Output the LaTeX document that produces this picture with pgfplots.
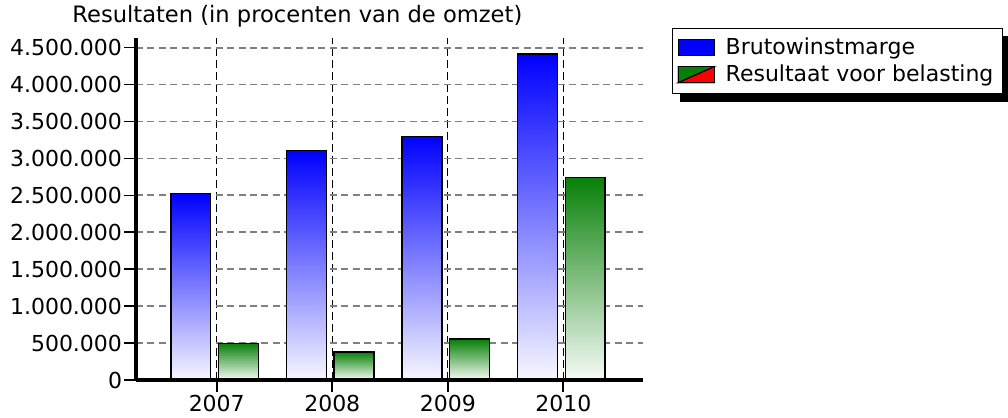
\documentclass[border=0pt]{standalone}
\usepackage{fontspec}
\setmainfont{DejaVu Sans}
\usepackage{pgfplots}
\pgfplotsset{compat=1.18}
\definecolor{bblue}{RGB}{0,0,255}
\definecolor{ggreen}{RGB}{8,128,8}
\newcommand{\chfont}{\fontsize{11}{13}\selectfont}
\pgfplotsset{
  layers/gridbelow/.define layer set={
    axis background,axis grid,main,axis ticks,axis lines,axis tick labels,axis descriptions,axis foreground
  }{
    grid style={/pgfplots/on layer=axis grid},
    tick style={/pgfplots/on layer=axis ticks},
    axis line style={/pgfplots/on layer=axis lines},
    label style={/pgfplots/on layer=axis descriptions},
    legend style={/pgfplots/on layer=axis descriptions},
    title style={/pgfplots/on layer=axis descriptions},
    colorbar style={/pgfplots/on layer=axis descriptions},
    ticklabel style={/pgfplots/on layer=axis tick labels},
    axis background@ style={/pgfplots/on layer=axis background},
    3d box foreground style={/pgfplots/on layer=axis foreground},
  },
}
\begin{document}
\chfont
\begin{tikzpicture}
\begin{axis}[
  set layers=gridbelow,
  at={(0,0)}, anchor=south west,
  scale only axis, width=253.5pt, height=171pt,
  xmin=-0.699, xmax=3.69, ymin=0, ymax=4631000,
  axis x line=bottom, axis y line=left,
  axis line style={-, line width=1.8pt, black},
  xtick={0,1,2,3}, xticklabels={2007,2008,2009,2010},
  ytick={0,500000,1000000,1500000,2000000,2500000,3000000,3500000,4000000,4500000},
  scaled y ticks=false,
  tick label style={font=\chfont, black},
  x tick label style={yshift=2.5pt},
  y tick label style={inner xsep=0.8pt, /pgf/number format/.cd, fixed, precision=0, 1000 sep={.}},
  /pgf/number format/assume math mode=true,
  tick align=outside, major tick length=6pt,
  tick style={black, line width=0.8pt},
  xmajorgrids, ymajorgrids,
  x grid style={black, line width=0.6pt, dash pattern=on 4pt off 2pt},
  y grid style={black!50, line width=0.9pt, dash pattern=on 3.5pt off 2.2pt},
  legend style={name=leg, at={(1.057,1.029)}, anchor=north west, draw=black, line width=0.6pt,
    fill=white, font=\chfont, inner xsep=2.5pt, inner ysep=2.5pt, row sep=-0.5pt, column sep=3.5pt},
  legend cell align=left,
]
% Brutowinstmarge
\addplot[ybar, bar width=0.346, bar shift=-0.225, draw=black, line width=0.75pt, top color=bblue, bottom color=bblue!3!white, forget plot] coordinates {(0,2523000)};
\addplot[ybar, bar width=0.346, bar shift=-0.225, draw=black, line width=0.75pt, top color=bblue, bottom color=bblue!3!white, forget plot] coordinates {(1,3108000)};
\addplot[ybar, bar width=0.346, bar shift=-0.225, draw=black, line width=0.75pt, top color=bblue, bottom color=bblue!3!white, forget plot] coordinates {(2,3300000)};
\addplot[ybar, bar width=0.346, bar shift=-0.225, draw=black, line width=0.75pt, top color=bblue, bottom color=bblue!3!white, forget plot] coordinates {(3,4417000)};
% Resultaat voor belasting
\addplot[ybar, bar width=0.346, bar shift=0.19, draw=black, line width=0.75pt, top color=ggreen, bottom color=ggreen!3!white, forget plot] coordinates {(0,497000)};
\addplot[ybar, bar width=0.346, bar shift=0.19, draw=black, line width=0.75pt, top color=ggreen, bottom color=ggreen!3!white, forget plot] coordinates {(1,380000)};
\addplot[ybar, bar width=0.346, bar shift=0.19, draw=black, line width=0.75pt, top color=ggreen, bottom color=ggreen!3!white, forget plot] coordinates {(2,552000)};
\addplot[ybar, bar width=0.346, bar shift=0.19, draw=black, line width=0.75pt, top color=ggreen, bottom color=ggreen!3!white, forget plot] coordinates {(3,2743000)};
\addlegendimage{legend image code/.code={\filldraw[fill=bblue,draw=black,line width=0.6pt] (0pt,-4pt) rectangle (18pt,4pt);}}
\addlegendentry{Brutowinstmarge}
\addlegendimage{legend image code/.code={\fill[ggreen] (0pt,-4pt) -- (0pt,4pt) -- (18pt,4pt) -- cycle; \fill[red] (0pt,-4pt) -- (18pt,-4pt) -- (18pt,4pt) -- cycle; \draw[black,line width=0.6pt] (0pt,-4pt) rectangle (18pt,4pt); \draw[black,line width=0.6pt] (0pt,-4pt) -- (18pt,4pt);}}
\addlegendentry{Resultaat voor belasting}
\end{axis}
% legend drop shadow (outside the legend box)
\fill[black] ([shift={(4pt,-4pt)}]leg.south west) rectangle ([shift={(4pt,0pt)}]leg.south east);
\fill[black] ([shift={(0pt,-4pt)}]leg.north east) rectangle ([shift={(4pt,0pt)}]leg.south east);
\node[anchor=base west, font=\fontsize{11.3}{13}\selectfont, inner sep=0pt] at (-32pt,178.5pt) {Resultaten (in procenten van de omzet)};
\pgfresetboundingbox
\path[use as bounding box] (-68pt,-19pt) rectangle (436pt,190pt);
\end{tikzpicture}
\end{document}
